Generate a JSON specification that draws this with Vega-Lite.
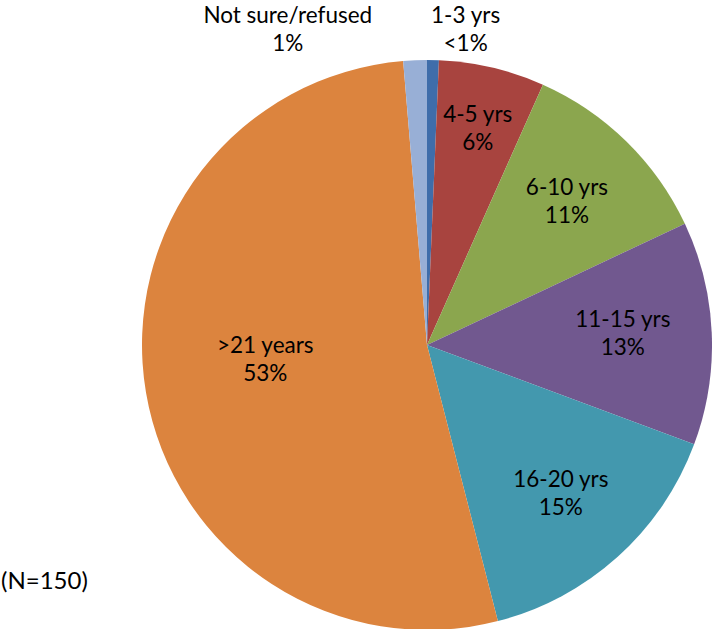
{
  "$schema": "https://vega.github.io/schema/vega-lite/v6.json",
  "width": 570,
  "height": 570,
  "autosize": {"type": "none"},
  "padding": {"left": 142, "top": 60, "right": 0, "bottom": 0},
  "background": "white",
  "config": {"view": {"stroke": null}, "font": "Lato"},
  "title": {
    "text": "(N=150)",
    "orient": "top",
    "anchor": "start",
    "frame": "group",
    "dx": -141,
    "dy": 593,
    "font": "Lato",
    "fontSize": 24,
    "fontWeight": "normal",
    "color": "#000000"
  },
  "data": {
    "values": [
      {"idx": 1, "name": "1-3 yrs", "count": 1, "label": "1-3 yrs\n<1%"},
      {"idx": 2, "name": "4-5 yrs", "count": 9, "label": "4-5 yrs\n6%"},
      {"idx": 3, "name": "6-10 yrs", "count": 17, "label": "6-10 yrs\n11%"},
      {"idx": 4, "name": "11-15 yrs", "count": 19, "label": "11-15 yrs\n13%"},
      {"idx": 5, "name": "16-20 yrs", "count": 23, "label": "16-20 yrs\n15%"},
      {"idx": 6, "name": ">21 years", "count": 79, "label": ">21 years\n53%"},
      {"idx": 7, "name": "Not sure/refused", "count": 2, "label": "Not sure/refused\n1%"}
    ]
  },
  "encoding": {
    "theta": {"field": "count", "type": "quantitative", "stack": true},
    "order": {"field": "idx", "type": "quantitative"}
  },
  "layer": [
    {
      "mark": {"type": "arc", "outerRadius": 285, "stroke": null},
      "encoding": {
        "color": {
          "field": "name",
          "type": "nominal",
          "legend": null,
          "scale": {
            "domain": ["1-3 yrs", "4-5 yrs", "6-10 yrs", "11-15 yrs", "16-20 yrs", ">21 years", "Not sure/refused"],
            "range": ["#3F6DAA", "#A8443F", "#8BA64E", "#71588F", "#4398AE", "#DC843E", "#98AFD6"]
          }
        }
      }
    },
    {
      "mark": {"type": "text", "radius": 222, "dy": -14, "fontSize": 22.5, "lineHeight": 28, "lineBreak": "\n", "color": "#000000", "align": "center", "baseline": "middle"},
      "encoding": {
        "detail": {"field": "name", "type": "nominal"},
        "text": {"condition": {"test": "datum.idx == 2", "field": "label"}, "value": ""}
      }
    },
    {
      "mark": {"type": "text", "radius": 200, "dy": -14, "fontSize": 22.5, "lineHeight": 28, "lineBreak": "\n", "color": "#000000", "align": "center", "baseline": "middle"},
      "encoding": {
        "detail": {"field": "name", "type": "nominal"},
        "text": {"condition": {"test": "datum.idx == 3 || datum.idx == 5", "field": "label"}, "value": ""}
      }
    },
    {
      "mark": {"type": "text", "radius": 196, "dy": -17, "fontSize": 22.5, "lineHeight": 28, "lineBreak": "\n", "color": "#000000", "align": "center", "baseline": "middle"},
      "encoding": {
        "detail": {"field": "name", "type": "nominal"},
        "text": {"condition": {"test": "datum.idx == 4", "field": "label"}, "value": ""}
      }
    },
    {
      "mark": {"type": "text", "radius": 164, "dy": -26, "fontSize": 22.5, "lineHeight": 28, "lineBreak": "\n", "color": "#000000", "align": "center", "baseline": "middle"},
      "encoding": {
        "detail": {"field": "name", "type": "nominal"},
        "text": {"condition": {"test": "datum.idx == 6", "field": "label"}, "value": ""}
      }
    },
    {
      "mark": {"type": "text", "radius": 316, "dx": -126, "dy": -13, "fontSize": 22.5, "lineHeight": 28, "lineBreak": "\n", "color": "#000000", "align": "center", "baseline": "middle"},
      "encoding": {
        "detail": {"field": "name", "type": "nominal"},
        "text": {"condition": {"test": "datum.idx == 7", "field": "label"}, "value": ""}
      }
    },
    {
      "mark": {"type": "text", "radius": 316, "dx": 32, "dy": -13, "fontSize": 22.5, "lineHeight": 28, "lineBreak": "\n", "color": "#000000", "align": "center", "baseline": "middle"},
      "encoding": {
        "detail": {"field": "name", "type": "nominal"},
        "text": {"condition": {"test": "datum.idx == 1", "field": "label"}, "value": ""}
      }
    }
  ]
}
